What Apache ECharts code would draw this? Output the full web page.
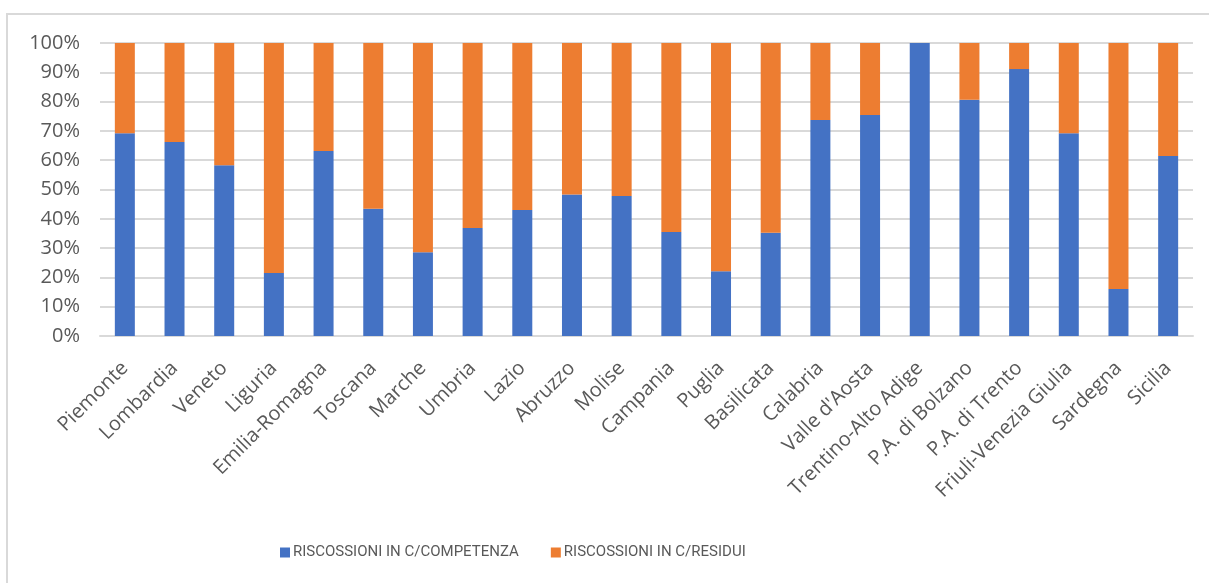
<!DOCTYPE html>
<html>
<head>
<meta charset="utf-8">
<script src="https://cdn.jsdelivr.net/npm/echarts@6/dist/echarts.min.js"></script>
<style>
  html, body { margin: 0; padding: 0; background: #fff; }
  #chart { width: 1209px; height: 583px; }
</style>
</head>
<body>
<div id="chart"></div>
<script>
const regioni = ["Piemonte", "Lombardia", "Veneto", "Liguria", "Emilia-Romagna", "Toscana", "Marche", "Umbria", "Lazio", "Abruzzo", "Molise", "Campania", "Puglia", "Basilicata", "Calabria", "Valle d'Aosta", "Trentino-Alto Adige", "P.A. di Bolzano", "P.A. di Trento", "Friuli-Venezia Giulia", "Sardegna", "Sicilia"];
const competenza = [69.2, 66.2, 58.3, 21.5, 63.1, 43.4, 28.6, 36.9, 43.0, 48.3, 47.8, 35.5, 22.1, 35.2, 73.7, 75.4, 100, 80.6, 91.1, 69.2, 16.0, 61.4];
const residui = [30.8, 33.8, 41.7, 78.5, 36.9, 56.6, 71.4, 63.1, 57.0, 51.7, 52.2, 64.5, 77.9, 64.8, 26.3, 24.6, 0, 19.4, 8.9, 30.8, 84.0, 38.6];

const font = "'Open Sans', sans-serif";
const chart = echarts.init(document.getElementById("chart"));
chart.setOption({
  animation: false,
  textStyle: { fontFamily: font, color: "#595959" },
  graphic: [{
    type: "rect",
    shape: { x: 7, y: 14, width: 1400, height: 800 },
    style: { fill: "none", stroke: "#d9d9d9", lineWidth: 2 },
    silent: true
  }],
  grid: { left: 100, right: 16, top: 43, bottom: 247 },
  legend: {
    left: 275,
    top: 540,
    itemWidth: 10,
    itemHeight: 10,
    itemGap: 32,
    icon: "rect",
    textStyle: { fontSize: 15, color: "#595959", fontFamily: "Roboto, sans-serif", padding: [0, 0, 0, -2] },
    data: ["RISCOSSIONI IN C/COMPETENZA", "RISCOSSIONI IN C/RESIDUI"]
  },
  xAxis: {
    type: "category",
    data: regioni,
    axisTick: { show: false },
    axisLine: { lineStyle: { color: "#d9d9d9", width: 2 } },
    axisLabel: { interval: 0, rotate: 45, margin: 29, fontSize: 20, color: "#595959" }
  },
  yAxis: {
    type: "value",
    min: 0,
    max: 100,
    interval: 10,
    axisLabel: { formatter: "{value}%", fontSize: 20, margin: 20, color: "#595959" },
    splitLine: { lineStyle: { color: "#d9d9d9", width: 2 } }
  },
  series: [
    {
      name: "RISCOSSIONI IN C/COMPETENZA",
      type: "bar",
      stack: "tot",
      barWidth: 20,
      itemStyle: { color: "#4472C4" },
      data: competenza
    },
    {
      name: "RISCOSSIONI IN C/RESIDUI",
      type: "bar",
      stack: "tot",
      barWidth: 20,
      itemStyle: { color: "#ED7D31" },
      data: residui
    }
  ]
});
</script>
</body>
</html>
